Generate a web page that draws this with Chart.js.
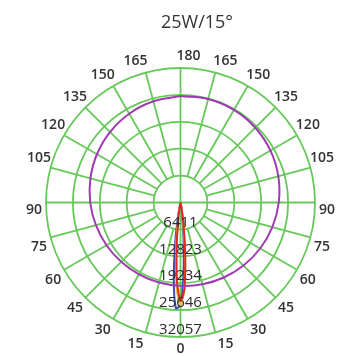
<!DOCTYPE html>
<html>
<head>
<meta charset="utf-8">
<script src="https://cdn.jsdelivr.net/npm/chart.js@4.4.1/dist/chart.umd.min.js"></script>
<style>
  html, body { margin: 0; padding: 0; background: #fff; }
  #wrap { width: 338px; height: 356px; position: relative; }
</style>
</head>
<body>
<div id="wrap"><canvas id="polar"></canvas></div>
<script>
// photometric polar plot, angles measured from straight down (0) to straight up (180)
const titleText = '25W/15°';
const angleTicks = [0, 15, 30, 45, 60, 75, 90, 105, 120, 135, 150, 165, 180];
const ringValues = [6411, 12823, 19234, 25646, 32057];

// wide curve (purple), negative angle = left half
const wideAngles = [-180, -165, -150, -135, -120, -105, -90, -75, -60, -45, -30, -15, 0,
                    15, 30, 45, 60, 75, 90, 105, 120, 135, 150, 165, 180];
const wideValues = [25360, 24970, 24430, 23760, 23000, 22230, 21520, 20870, 20370, 19990, 19780, 19760, 19870,
                    20180, 20640, 21230, 21920, 22660, 23420, 24140, 24760, 25210, 25470, 25520, 25360];

// narrow beams
const beamAngles  = [-20, -15, -10, -7.5, -5, -2.5, 0, 2.5, 5, 7.5, 10, 15, 20];
const redValues    = [0, 50, 1300, 4300, 10600, 19000, 23300, 20700, 12800, 5600, 1800, 90, 0];
const yellowValues = [0, 70, 1500, 5100, 12200, 20600, 24500, 20600, 12300, 5200, 1550, 75, 0];
const greenValues  = [0, 60, 1400, 4700, 11500, 19900, 23900, 21000, 13000, 5700, 1800, 90, 0];
const blueValues   = [0, 165, 3500, 9530, 18440, 25200, 24330, 16630, 8030, 2750, 660, 0, 0];

const maxVal = ringValues[ringValues.length - 1];
const gridColor = '#66c959';

function toXY(angles, values) {
  return angles.map((a, i) => {
    const r = a * Math.PI / 180;
    return { x: values[i] * Math.sin(r), y: -values[i] * Math.cos(r) };
  });
}

function line(label, angles, values, color, tension) {
  return {
    label,
    data: toXY(angles, values),
    showLine: true,
    borderColor: color,
    borderWidth: 2,
    pointRadius: 0,
    tension: tension,
    fill: false
  };
}

const polarGrid = {
  id: 'polarGrid',
  beforeDatasetsDraw(chart) {
    const ctx = chart.ctx;
    const xs = chart.scales.x, ys = chart.scales.y;
    const cx = xs.getPixelForValue(0), cy = ys.getPixelForValue(0);
    const rad = v => xs.getPixelForValue(v) - cx;
    const r0 = rad(ringValues[0]), rOut = rad(maxVal);
    ctx.save();
    ctx.strokeStyle = gridColor;
    ctx.lineWidth = 1.8;
    ringValues.forEach(v => {
      ctx.beginPath();
      ctx.arc(cx, cy, rad(v), 0, Math.PI * 2);
      ctx.stroke();
    });
    for (let k = 0; k < 24; k++) {
      const a = k * 15 * Math.PI / 180;
      const start = (k % 6 === 0) ? 0 : r0;
      ctx.beginPath();
      ctx.moveTo(cx + start * Math.sin(a), cy + start * Math.cos(a));
      ctx.lineTo(cx + rOut * Math.sin(a), cy + rOut * Math.cos(a));
      ctx.stroke();
    }
    ctx.restore();
  },
  afterDatasetsDraw(chart) {
    const ctx = chart.ctx;
    const xs = chart.scales.x, ys = chart.scales.y;
    const cx = xs.getPixelForValue(0), cy = ys.getPixelForValue(0);
    const rOut = xs.getPixelForValue(maxVal) - cx;
    ctx.save();
    ctx.fillStyle = '#2b2b2b';
    ctx.textAlign = 'center';
    ctx.textBaseline = 'middle';
    // ring values, straight down
    ctx.font = '15px "Open Sans", sans-serif';
    ringValues.forEach(v => {
      ctx.fillText(String(v), cx, ys.getPixelForValue(-v) - 7);
    });
    // angle labels both sides, nudged away from the axes like the original
    ctx.font = '600 14px "Open Sans", sans-serif';
    ctx.fillStyle = '#333';
    const lr = rOut + 12;
    angleTicks.forEach(t => {
      const sides = (t === 0 || t === 180) ? [1] : [-1, 1];
      sides.forEach(s => {
        const a = s * t * Math.PI / 180;
        const sn = Math.sin(a), cs = Math.cos(a);
        const nx = Math.sign(sn) * 8 * Math.pow(cs, 4);
        const ny = Math.sign(cs) * 8 * Math.pow(sn, 4);
        ctx.fillText(String(t), cx + lr * sn + nx, cy + lr * cs + ny);
      });
    });
    // title
    ctx.font = '18px "Open Sans", sans-serif';
    ctx.fillStyle = '#333';
    ctx.fillText(titleText, 197, 23);
    ctx.restore();
  }
};

new Chart(document.getElementById('polar'), {
  type: 'scatter',
  data: {
    datasets: [
      line('C0-C180', wideAngles, wideValues, '#a03ab2', 0.4),
      line('red', beamAngles, redValues, '#e4262a', 0.3),
      line('yellow', beamAngles, yellowValues, '#f2c23e', 0.3),
      line('green', beamAngles, greenValues, '#7cc84a', 0.3),
      line('blue', beamAngles, blueValues, '#3a4db4', 0.3)
    ]
  },
  options: {
    responsive: true,
    maintainAspectRatio: false,
    animation: false,
    layout: { padding: { left: 46, right: 23, top: 68, bottom: 19 } },
    scales: {
      x: { type: 'linear', min: -maxVal, max: maxVal, display: false },
      y: { type: 'linear', min: -maxVal, max: maxVal, display: false }
    },
    plugins: {
      legend: { display: false },
      tooltip: { enabled: false }
    }
  },
  plugins: [polarGrid]
});
</script>
</body>
</html>
